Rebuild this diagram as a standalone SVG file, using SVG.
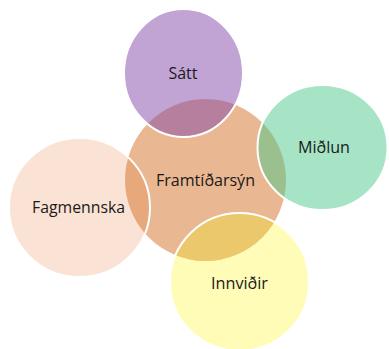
<svg xmlns="http://www.w3.org/2000/svg" width="389" height="349" viewBox="0 0 389 349">
<style>
.c{stroke:#ffffff;stroke-width:2}
.t{font-family:"Open Sans","Liberation Sans",sans-serif;font-size:16.5px;fill:#1a1a1a;text-anchor:middle}
</style>
<defs>
<clipPath id="clipF"><ellipse cx="205.5" cy="180" rx="80.5" ry="81"/></clipPath>
</defs>
<rect width="389" height="349" fill="#ffffff"/>
<g id="fagmennska">
<ellipse class="c" cx="79.5" cy="207.5" rx="70.5" ry="69.5" fill="#FAE2D4"/>
<text class="t" x="78.5" y="213" textLength="93" lengthAdjust="spacingAndGlyphs">Fagmennska</text>
</g>
<g id="framtidarsyn">
<ellipse cx="205.5" cy="180" rx="80.5" ry="81" fill="#D36F23" fill-opacity="0.5"/>
<ellipse cx="79.5" cy="207.5" rx="70.5" ry="69.5" fill="none" stroke="#ffffff" stroke-width="2" clip-path="url(#clipF)"/>
<text class="t" x="205.5" y="186" textLength="99" lengthAdjust="spacingAndGlyphs">Framtíðarsýn</text>
</g>
<g id="satt">
<ellipse class="c" cx="183.5" cy="73" rx="59.5" ry="64" fill="#8347A9" fill-opacity="0.5"/>
<text class="t" x="183" y="79" textLength="29" lengthAdjust="spacingAndGlyphs">Sátt</text>
</g>
<g id="midlun">
<ellipse class="c" cx="322.5" cy="147.5" rx="65" ry="62.5" fill="#4DC98B" fill-opacity="0.5"/>
<text class="t" x="324" y="153" textLength="52" lengthAdjust="spacingAndGlyphs">Miðlun</text>
</g>
<g id="innvidir">
<ellipse cx="239.5" cy="282" rx="69.5" ry="69" fill="#FFF971" fill-opacity="0.5"/>
<ellipse cx="239.5" cy="282" rx="69.5" ry="69" fill="#ECC86C" clip-path="url(#clipF)"/>
<ellipse cx="239.5" cy="282" rx="69.5" ry="69" fill="none" class="c"/>
<text class="t" x="239.5" y="289" textLength="57" lengthAdjust="spacingAndGlyphs">Innviðir</text>
</g>
<g id="connectors"></g>
</svg>
